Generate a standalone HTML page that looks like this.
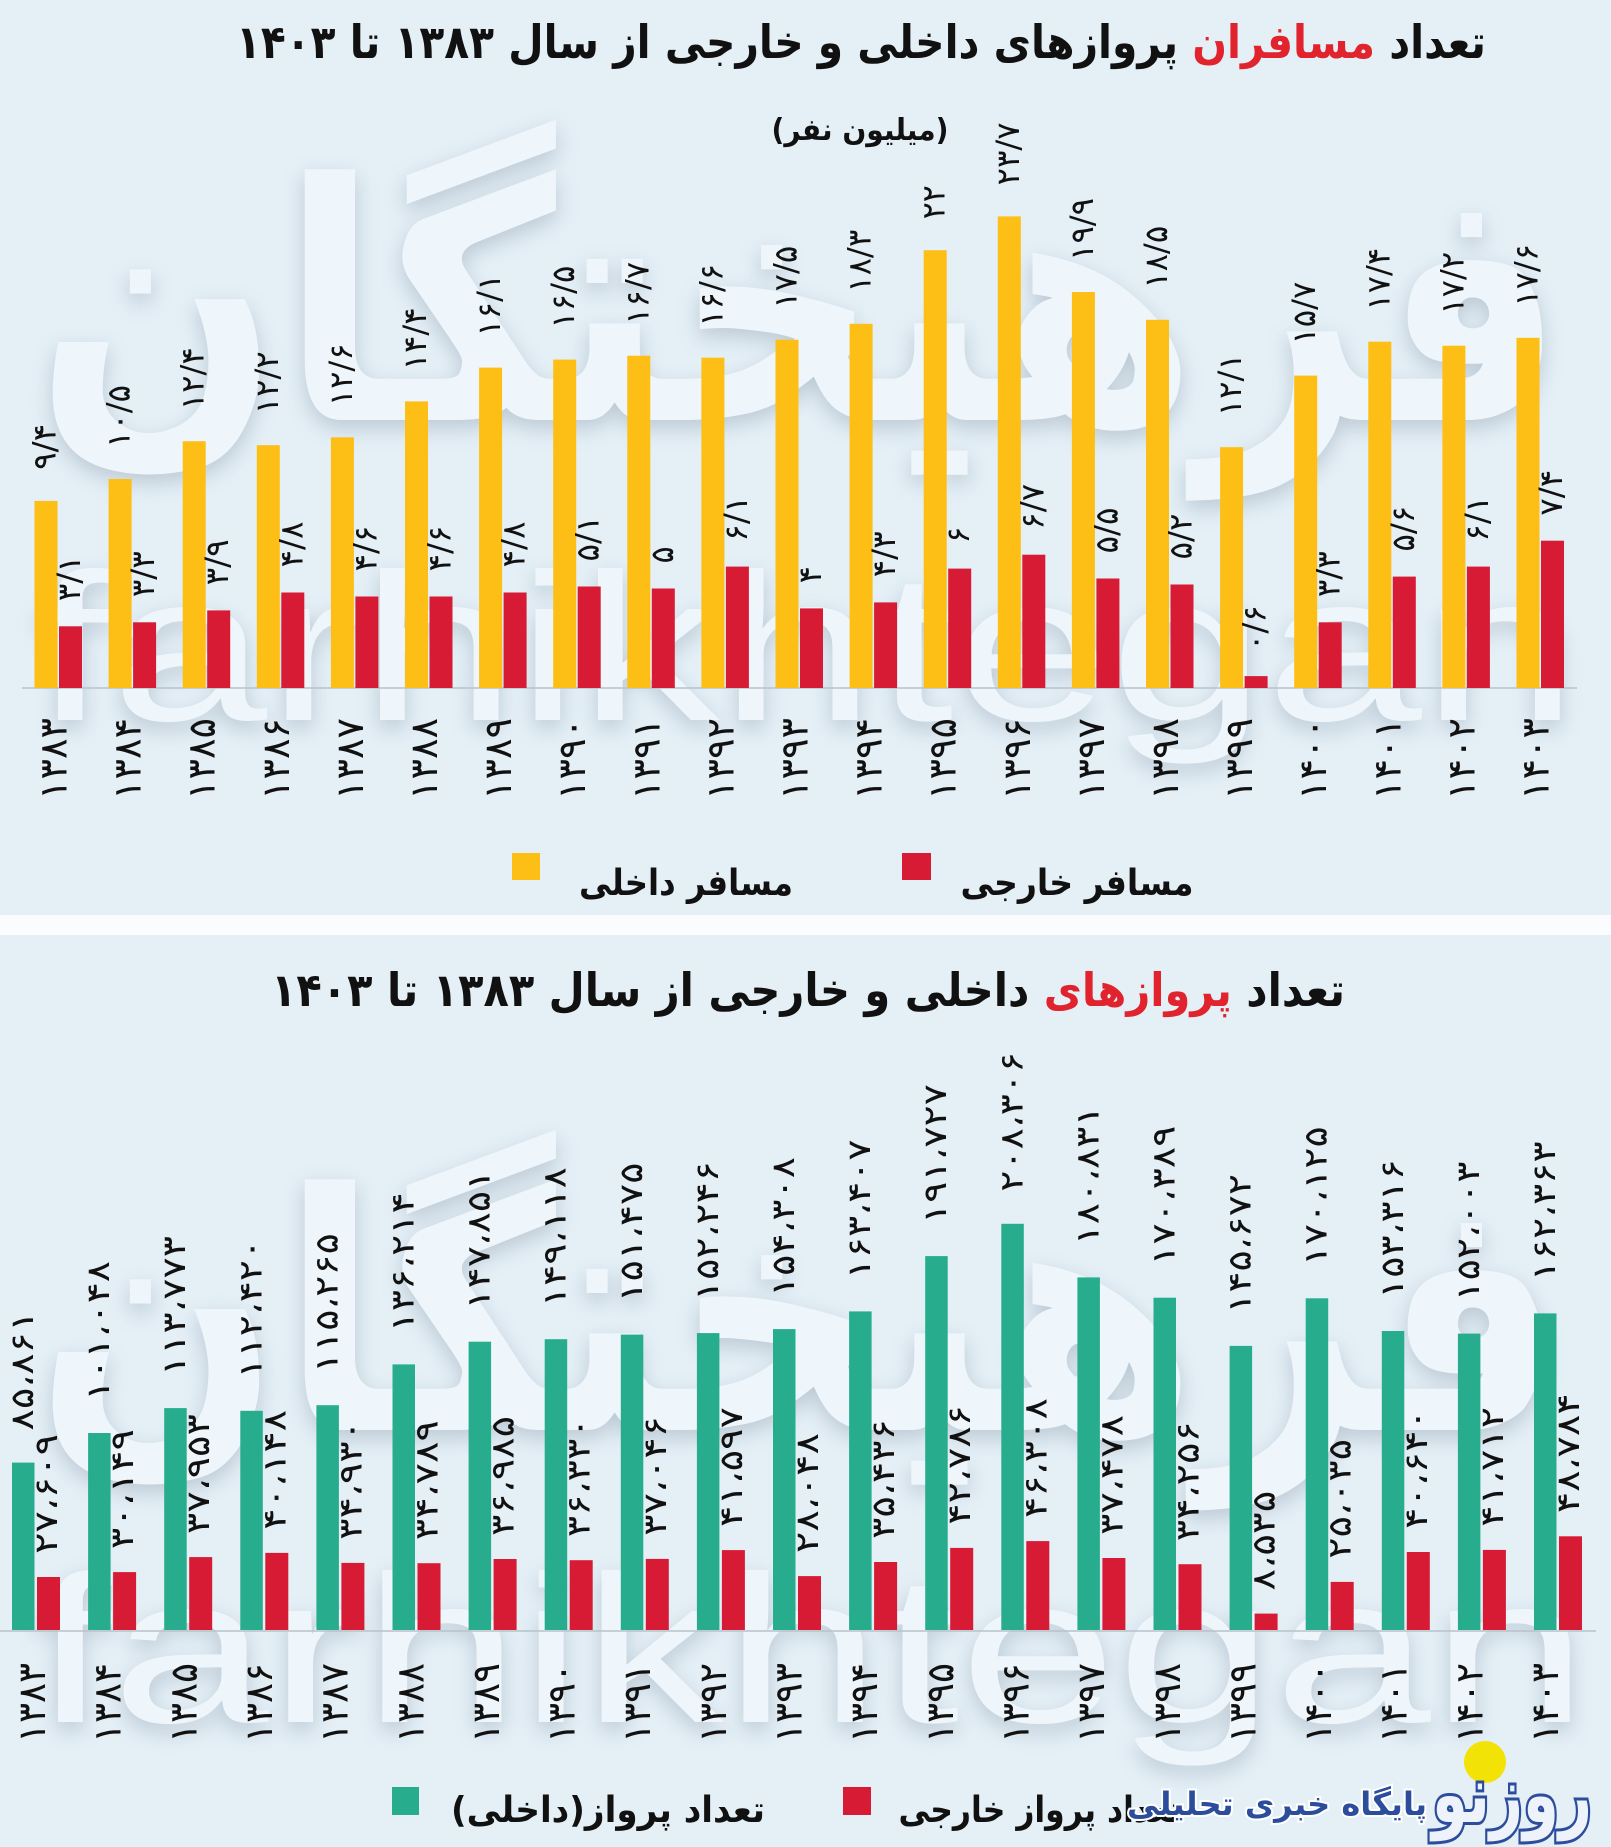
<!DOCTYPE html>
<html lang="fa">
<head>
<meta charset="utf-8">
<style>
  html,body{margin:0;padding:0;background:#fafcfd;}
  body{width:1611px;height:1847px;overflow:hidden;}
  svg{display:block;}
  .t{font-family:"DejaVu Sans",sans-serif;font-weight:bold;fill:#111;}
  .v{font-family:"DejaVu Sans",sans-serif;font-weight:normal;font-size:32px;fill:#111;}
  .y{font-family:"DejaVu Sans",sans-serif;font-weight:normal;font-size:38px;fill:#111;}
  .wm{font-family:"Liberation Sans",sans-serif;font-size:210px;fill:#eff6fb;}
  .wp{font-family:"DejaVu Sans",sans-serif;font-weight:bold;font-size:330px;fill:#eff6fb;}
  .sh{filter:drop-shadow(0px 8px 10px rgba(95,115,135,0.30));}
  .ya{fill:#fdbe16;} .re{fill:#d71b34;} .gr{fill:#27ad8e;}
</style>
</head>
<body>
<svg width="1611" height="1847" viewBox="0 0 1611 1847" xmlns="http://www.w3.org/2000/svg">
  <rect x="0" y="0" width="1611" height="1847" fill="#fafcfd"/>
  <rect x="0" y="0" width="1611" height="915" fill="#e4eff6"/>
  <rect x="0" y="935" width="1611" height="912" fill="#e4eff6"/>

  <g class="sh">
    <text class="wp" x="800" y="420" text-anchor="middle" textLength="1530" lengthAdjust="spacingAndGlyphs" style="direction:rtl">فرهیختگان</text>
    <text class="wm" x="33" y="720" textLength="1545" lengthAdjust="spacingAndGlyphs">farhikhtegan</text>
    <text class="wp" x="800" y="1430" text-anchor="middle" textLength="1530" lengthAdjust="spacingAndGlyphs" style="direction:rtl">فرهیختگان</text>
    <text class="wm" x="33" y="1722" textLength="1555" lengthAdjust="spacingAndGlyphs">farhikhtegan</text>
  </g>

  <!-- ========== CHART 1 ========== -->
  <text class="t" x="861" y="58" font-size="46" text-anchor="middle" textLength="1250" lengthAdjust="spacingAndGlyphs" style="direction:rtl">تعداد <tspan fill="#e1232e">مسافران</tspan> پروازهای داخلی و خارجی از سال ۱۳۸۳ تا ۱۴۰۳</text>
  <text class="t" x="860" y="140" font-size="30" text-anchor="middle" textLength="177" lengthAdjust="spacingAndGlyphs" style="direction:rtl">(میلیون نفر)</text>

  <line x1="22" y1="688" x2="1577" y2="688" stroke="#b8c2ca" stroke-width="1.5"/>

  <g class="ya">
    <rect x="34.5" y="500.9" width="23" height="187.1"/>
    <rect x="108.6" y="479.0" width="23" height="209.0"/>
    <rect x="182.7" y="441.2" width="23" height="246.8"/>
    <rect x="256.8" y="445.2" width="23" height="242.8"/>
    <rect x="330.9" y="437.3" width="23" height="250.7"/>
    <rect x="405.0" y="401.4" width="23" height="286.6"/>
    <rect x="479.1" y="367.6" width="23" height="320.4"/>
    <rect x="553.2" y="359.6" width="23" height="328.4"/>
    <rect x="627.3" y="355.7" width="23" height="332.3"/>
    <rect x="701.4" y="357.7" width="23" height="330.3"/>
    <rect x="775.5" y="339.7" width="23" height="348.3"/>
    <rect x="849.6" y="323.8" width="23" height="364.2"/>
    <rect x="923.7" y="250.2" width="23" height="437.8"/>
    <rect x="997.8" y="216.4" width="23" height="471.6"/>
    <rect x="1071.9" y="292.0" width="23" height="396.0"/>
    <rect x="1146.0" y="319.8" width="23" height="368.2"/>
    <rect x="1220.1" y="447.2" width="23" height="240.8"/>
    <rect x="1294.2" y="375.6" width="23" height="312.4"/>
    <rect x="1368.3" y="341.7" width="23" height="346.3"/>
    <rect x="1442.4" y="345.7" width="23" height="342.3"/>
    <rect x="1516.5" y="337.8" width="23" height="350.2"/>
  </g>
  <g class="re">
    <rect x="59.0" y="626.3" width="23" height="61.7"/>
    <rect x="133.1" y="622.3" width="23" height="65.7"/>
    <rect x="207.2" y="610.4" width="23" height="77.6"/>
    <rect x="281.3" y="592.5" width="23" height="95.5"/>
    <rect x="355.4" y="596.5" width="23" height="91.5"/>
    <rect x="429.5" y="596.5" width="23" height="91.5"/>
    <rect x="503.6" y="592.5" width="23" height="95.5"/>
    <rect x="577.7" y="586.5" width="23" height="101.5"/>
    <rect x="651.8" y="588.5" width="23" height="99.5"/>
    <rect x="725.9" y="566.6" width="23" height="121.4"/>
    <rect x="800.0" y="608.4" width="23" height="79.6"/>
    <rect x="874.1" y="602.4" width="23" height="85.6"/>
    <rect x="948.2" y="568.6" width="23" height="119.4"/>
    <rect x="1022.3" y="554.7" width="23" height="133.3"/>
    <rect x="1096.4" y="578.5" width="23" height="109.5"/>
    <rect x="1170.5" y="584.5" width="23" height="103.5"/>
    <rect x="1244.6" y="676.1" width="23" height="11.9"/>
    <rect x="1318.7" y="622.3" width="23" height="65.7"/>
    <rect x="1392.8" y="576.6" width="23" height="111.4"/>
    <rect x="1466.9" y="566.6" width="23" height="121.4"/>
    <rect x="1541.0" y="540.7" width="23" height="147.3"/>
  </g>

  <g>
    <text class="v" transform="translate(55.5,469.9) rotate(-90)" textLength="46" lengthAdjust="spacingAndGlyphs">۹/۴</text>
    <text class="v" transform="translate(129.6,448.0) rotate(-90)" textLength="63" lengthAdjust="spacingAndGlyphs">۱۰/۵</text>
    <text class="v" transform="translate(203.7,410.2) rotate(-90)" textLength="63" lengthAdjust="spacingAndGlyphs">۱۲/۴</text>
    <text class="v" transform="translate(277.8,414.2) rotate(-90)" textLength="63" lengthAdjust="spacingAndGlyphs">۱۲/۲</text>
    <text class="v" transform="translate(351.9,406.3) rotate(-90)" textLength="63" lengthAdjust="spacingAndGlyphs">۱۲/۶</text>
    <text class="v" transform="translate(426.0,370.4) rotate(-90)" textLength="63" lengthAdjust="spacingAndGlyphs">۱۴/۴</text>
    <text class="v" transform="translate(500.1,336.6) rotate(-90)" textLength="63" lengthAdjust="spacingAndGlyphs">۱۶/۱</text>
    <text class="v" transform="translate(574.2,328.6) rotate(-90)" textLength="63" lengthAdjust="spacingAndGlyphs">۱۶/۵</text>
    <text class="v" transform="translate(648.3,324.7) rotate(-90)" textLength="63" lengthAdjust="spacingAndGlyphs">۱۶/۷</text>
    <text class="v" transform="translate(722.4,326.7) rotate(-90)" textLength="63" lengthAdjust="spacingAndGlyphs">۱۶/۶</text>
    <text class="v" transform="translate(796.5,308.7) rotate(-90)" textLength="63" lengthAdjust="spacingAndGlyphs">۱۷/۵</text>
    <text class="v" transform="translate(870.6,292.8) rotate(-90)" textLength="63" lengthAdjust="spacingAndGlyphs">۱۸/۳</text>
    <text class="v" transform="translate(944.7,219.2) rotate(-90)" textLength="34" lengthAdjust="spacingAndGlyphs">۲۲</text>
    <text class="v" transform="translate(1018.8,185.4) rotate(-90)" textLength="63" lengthAdjust="spacingAndGlyphs">۲۳/۷</text>
    <text class="v" transform="translate(1092.9,261.0) rotate(-90)" textLength="63" lengthAdjust="spacingAndGlyphs">۱۹/۹</text>
    <text class="v" transform="translate(1167.0,288.8) rotate(-90)" textLength="63" lengthAdjust="spacingAndGlyphs">۱۸/۵</text>
    <text class="v" transform="translate(1241.1,416.2) rotate(-90)" textLength="63" lengthAdjust="spacingAndGlyphs">۱۲/۱</text>
    <text class="v" transform="translate(1315.2,344.6) rotate(-90)" textLength="63" lengthAdjust="spacingAndGlyphs">۱۵/۷</text>
    <text class="v" transform="translate(1389.3,310.7) rotate(-90)" textLength="63" lengthAdjust="spacingAndGlyphs">۱۷/۴</text>
    <text class="v" transform="translate(1463.4,314.7) rotate(-90)" textLength="63" lengthAdjust="spacingAndGlyphs">۱۷/۲</text>
    <text class="v" transform="translate(1537.5,306.8) rotate(-90)" textLength="63" lengthAdjust="spacingAndGlyphs">۱۷/۶</text>
  </g>
  <g>
    <text class="v" transform="translate(80.0,601.3) rotate(-90)" textLength="46" lengthAdjust="spacingAndGlyphs">۳/۱</text>
    <text class="v" transform="translate(154.1,597.3) rotate(-90)" textLength="46" lengthAdjust="spacingAndGlyphs">۳/۳</text>
    <text class="v" transform="translate(228.2,585.4) rotate(-90)" textLength="46" lengthAdjust="spacingAndGlyphs">۳/۹</text>
    <text class="v" transform="translate(302.3,567.5) rotate(-90)" textLength="46" lengthAdjust="spacingAndGlyphs">۴/۸</text>
    <text class="v" transform="translate(376.4,571.5) rotate(-90)" textLength="46" lengthAdjust="spacingAndGlyphs">۴/۶</text>
    <text class="v" transform="translate(450.5,571.5) rotate(-90)" textLength="46" lengthAdjust="spacingAndGlyphs">۴/۶</text>
    <text class="v" transform="translate(524.6,567.5) rotate(-90)" textLength="46" lengthAdjust="spacingAndGlyphs">۴/۸</text>
    <text class="v" transform="translate(598.7,561.5) rotate(-90)" textLength="46" lengthAdjust="spacingAndGlyphs">۵/۱</text>
    <text class="v" transform="translate(672.8,563.5) rotate(-90)">۵</text>
    <text class="v" transform="translate(746.9,541.6) rotate(-90)" textLength="46" lengthAdjust="spacingAndGlyphs">۶/۱</text>
    <text class="v" transform="translate(821.0,583.4) rotate(-90)">۴</text>
    <text class="v" transform="translate(895.1,577.4) rotate(-90)" textLength="46" lengthAdjust="spacingAndGlyphs">۴/۳</text>
    <text class="v" transform="translate(969.2,543.6) rotate(-90)">۶</text>
    <text class="v" transform="translate(1043.3,529.7) rotate(-90)" textLength="46" lengthAdjust="spacingAndGlyphs">۶/۷</text>
    <text class="v" transform="translate(1117.4,553.5) rotate(-90)" textLength="46" lengthAdjust="spacingAndGlyphs">۵/۵</text>
    <text class="v" transform="translate(1191.5,559.5) rotate(-90)" textLength="46" lengthAdjust="spacingAndGlyphs">۵/۲</text>
    <text class="v" transform="translate(1265.6,651.1) rotate(-90)" textLength="46" lengthAdjust="spacingAndGlyphs">۰/۶</text>
    <text class="v" transform="translate(1339.7,597.3) rotate(-90)" textLength="46" lengthAdjust="spacingAndGlyphs">۳/۳</text>
    <text class="v" transform="translate(1413.8,551.6) rotate(-90)" textLength="46" lengthAdjust="spacingAndGlyphs">۵/۶</text>
    <text class="v" transform="translate(1487.9,541.6) rotate(-90)" textLength="46" lengthAdjust="spacingAndGlyphs">۶/۱</text>
    <text class="v" transform="translate(1562.0,515.7) rotate(-90)" textLength="46" lengthAdjust="spacingAndGlyphs">۷/۴</text>
  </g>
  <g>
    <text class="y" transform="translate(66.5,800) rotate(-90)" textLength="82" lengthAdjust="spacingAndGlyphs">۱۳۸۳</text>
    <text class="y" transform="translate(140.6,800) rotate(-90)" textLength="82" lengthAdjust="spacingAndGlyphs">۱۳۸۴</text>
    <text class="y" transform="translate(214.7,800) rotate(-90)" textLength="82" lengthAdjust="spacingAndGlyphs">۱۳۸۵</text>
    <text class="y" transform="translate(288.8,800) rotate(-90)" textLength="82" lengthAdjust="spacingAndGlyphs">۱۳۸۶</text>
    <text class="y" transform="translate(362.9,800) rotate(-90)" textLength="82" lengthAdjust="spacingAndGlyphs">۱۳۸۷</text>
    <text class="y" transform="translate(437.0,800) rotate(-90)" textLength="82" lengthAdjust="spacingAndGlyphs">۱۳۸۸</text>
    <text class="y" transform="translate(511.1,800) rotate(-90)" textLength="82" lengthAdjust="spacingAndGlyphs">۱۳۸۹</text>
    <text class="y" transform="translate(585.2,800) rotate(-90)" textLength="82" lengthAdjust="spacingAndGlyphs">۱۳۹۰</text>
    <text class="y" transform="translate(659.3,800) rotate(-90)" textLength="82" lengthAdjust="spacingAndGlyphs">۱۳۹۱</text>
    <text class="y" transform="translate(733.4,800) rotate(-90)" textLength="82" lengthAdjust="spacingAndGlyphs">۱۳۹۲</text>
    <text class="y" transform="translate(807.5,800) rotate(-90)" textLength="82" lengthAdjust="spacingAndGlyphs">۱۳۹۳</text>
    <text class="y" transform="translate(881.6,800) rotate(-90)" textLength="82" lengthAdjust="spacingAndGlyphs">۱۳۹۴</text>
    <text class="y" transform="translate(955.7,800) rotate(-90)" textLength="82" lengthAdjust="spacingAndGlyphs">۱۳۹۵</text>
    <text class="y" transform="translate(1029.8,800) rotate(-90)" textLength="82" lengthAdjust="spacingAndGlyphs">۱۳۹۶</text>
    <text class="y" transform="translate(1103.9,800) rotate(-90)" textLength="82" lengthAdjust="spacingAndGlyphs">۱۳۹۷</text>
    <text class="y" transform="translate(1178.0,800) rotate(-90)" textLength="82" lengthAdjust="spacingAndGlyphs">۱۳۹۸</text>
    <text class="y" transform="translate(1252.1,800) rotate(-90)" textLength="82" lengthAdjust="spacingAndGlyphs">۱۳۹۹</text>
    <text class="y" transform="translate(1326.2,800) rotate(-90)" textLength="82" lengthAdjust="spacingAndGlyphs">۱۴۰۰</text>
    <text class="y" transform="translate(1400.3,800) rotate(-90)" textLength="82" lengthAdjust="spacingAndGlyphs">۱۴۰۱</text>
    <text class="y" transform="translate(1474.4,800) rotate(-90)" textLength="82" lengthAdjust="spacingAndGlyphs">۱۴۰۲</text>
    <text class="y" transform="translate(1548.5,800) rotate(-90)" textLength="82" lengthAdjust="spacingAndGlyphs">۱۴۰۳</text>
  </g>

  <rect x="902" y="853" width="29" height="27" fill="#d71b34"/>
  <text class="t" x="1077" y="895" font-size="36" text-anchor="middle" textLength="233" lengthAdjust="spacingAndGlyphs" style="direction:rtl">مسافر خارجی</text>
  <rect x="512" y="853" width="28" height="27" fill="#fdbe16"/>
  <text class="t" x="686" y="895" font-size="36" text-anchor="middle" textLength="214" lengthAdjust="spacingAndGlyphs" style="direction:rtl">مسافر داخلی</text>

  <!-- ========== CHART 2 ========== -->
  <text class="t" x="808" y="1006" font-size="46" text-anchor="middle" textLength="1074" lengthAdjust="spacingAndGlyphs" style="direction:rtl">تعداد <tspan fill="#e1232e">پروازهای</tspan> داخلی و خارجی از سال ۱۳۸۳ تا ۱۴۰۳</text>

  <line x1="0" y1="1631" x2="1596" y2="1631" stroke="#b8c2ca" stroke-width="1.5"/>

  <g class="gr">
    <rect x="12.0" y="1462.6" width="22.5" height="167.4"/>
    <rect x="88.1" y="1433.0" width="22.5" height="197.0"/>
    <rect x="164.2" y="1408.1" width="22.5" height="221.9"/>
    <rect x="240.3" y="1410.8" width="22.5" height="219.2"/>
    <rect x="316.4" y="1405.2" width="22.5" height="224.8"/>
    <rect x="392.5" y="1364.4" width="22.5" height="265.6"/>
    <rect x="468.6" y="1341.7" width="22.5" height="288.3"/>
    <rect x="544.7" y="1339.2" width="22.5" height="290.8"/>
    <rect x="620.8" y="1334.6" width="22.5" height="295.4"/>
    <rect x="696.9" y="1333.1" width="22.5" height="296.9"/>
    <rect x="773.0" y="1329.1" width="22.5" height="300.9"/>
    <rect x="849.1" y="1311.4" width="22.5" height="318.6"/>
    <rect x="925.2" y="1256.1" width="22.5" height="373.9"/>
    <rect x="1001.3" y="1223.8" width="22.5" height="406.2"/>
    <rect x="1077.4" y="1277.4" width="22.5" height="352.6"/>
    <rect x="1153.5" y="1297.7" width="22.5" height="332.3"/>
    <rect x="1229.6" y="1345.9" width="22.5" height="284.1"/>
    <rect x="1305.7" y="1298.3" width="22.5" height="331.7"/>
    <rect x="1381.8" y="1331.0" width="22.5" height="299.0"/>
    <rect x="1457.9" y="1333.6" width="22.5" height="296.4"/>
    <rect x="1534.0" y="1313.4" width="22.5" height="316.6"/>
  </g>
  <g class="re">
    <rect x="37.0" y="1577.0" width="23" height="53.0"/>
    <rect x="113.1" y="1572.1" width="23" height="57.9"/>
    <rect x="189.2" y="1557.1" width="23" height="72.9"/>
    <rect x="265.3" y="1552.9" width="23" height="77.1"/>
    <rect x="341.4" y="1562.9" width="23" height="67.1"/>
    <rect x="417.5" y="1563.2" width="23" height="66.8"/>
    <rect x="493.6" y="1559.0" width="23" height="71.0"/>
    <rect x="569.7" y="1560.2" width="23" height="69.8"/>
    <rect x="645.8" y="1558.9" width="23" height="71.1"/>
    <rect x="721.9" y="1550.1" width="23" height="79.9"/>
    <rect x="798.0" y="1576.1" width="23" height="53.9"/>
    <rect x="874.1" y="1562.0" width="23" height="68.0"/>
    <rect x="950.2" y="1547.9" width="23" height="82.1"/>
    <rect x="1026.3" y="1541.1" width="23" height="88.9"/>
    <rect x="1102.4" y="1558.0" width="23" height="72.0"/>
    <rect x="1178.5" y="1564.2" width="23" height="65.8"/>
    <rect x="1254.6" y="1613.6" width="23" height="16.4"/>
    <rect x="1330.7" y="1581.9" width="23" height="48.1"/>
    <rect x="1406.8" y="1552.0" width="23" height="78.0"/>
    <rect x="1482.9" y="1549.9" width="23" height="80.1"/>
    <rect x="1559.0" y="1536.3" width="23" height="93.7"/>
  </g>

  <g>
    <text class="v" transform="translate(33.0,1430.6) rotate(-90)" textLength="120" lengthAdjust="spacingAndGlyphs">۸۵،۸۶۱</text>
    <text class="v" transform="translate(109.1,1401.0) rotate(-90)" textLength="140" lengthAdjust="spacingAndGlyphs">۱۰۱،۰۴۸</text>
    <text class="v" transform="translate(185.2,1376.1) rotate(-90)" textLength="140" lengthAdjust="spacingAndGlyphs">۱۱۳،۷۷۳</text>
    <text class="v" transform="translate(261.3,1378.8) rotate(-90)" textLength="140" lengthAdjust="spacingAndGlyphs">۱۱۲،۴۲۰</text>
    <text class="v" transform="translate(337.4,1373.2) rotate(-90)" textLength="140" lengthAdjust="spacingAndGlyphs">۱۱۵،۲۶۵</text>
    <text class="v" transform="translate(413.5,1332.4) rotate(-90)" textLength="140" lengthAdjust="spacingAndGlyphs">۱۳۶،۲۱۴</text>
    <text class="v" transform="translate(489.6,1309.7) rotate(-90)" textLength="140" lengthAdjust="spacingAndGlyphs">۱۴۷،۸۵۱</text>
    <text class="v" transform="translate(565.7,1307.2) rotate(-90)" textLength="140" lengthAdjust="spacingAndGlyphs">۱۴۹،۱۱۸</text>
    <text class="v" transform="translate(641.8,1302.6) rotate(-90)" textLength="140" lengthAdjust="spacingAndGlyphs">۱۵۱،۴۷۵</text>
    <text class="v" transform="translate(717.9,1301.1) rotate(-90)" textLength="140" lengthAdjust="spacingAndGlyphs">۱۵۲،۲۴۶</text>
    <text class="v" transform="translate(794.0,1297.1) rotate(-90)" textLength="140" lengthAdjust="spacingAndGlyphs">۱۵۴،۳۰۸</text>
    <text class="v" transform="translate(870.1,1279.4) rotate(-90)" textLength="140" lengthAdjust="spacingAndGlyphs">۱۶۳،۴۰۷</text>
    <text class="v" transform="translate(946.2,1224.1) rotate(-90)" textLength="140" lengthAdjust="spacingAndGlyphs">۱۹۱،۷۲۷</text>
    <text class="v" transform="translate(1022.3,1191.8) rotate(-90)" textLength="140" lengthAdjust="spacingAndGlyphs">۲۰۸،۳۰۶</text>
    <text class="v" transform="translate(1098.4,1245.4) rotate(-90)" textLength="140" lengthAdjust="spacingAndGlyphs">۱۸۰،۸۳۱</text>
    <text class="v" transform="translate(1174.5,1265.7) rotate(-90)" textLength="140" lengthAdjust="spacingAndGlyphs">۱۷۰،۳۸۹</text>
    <text class="v" transform="translate(1250.6,1313.9) rotate(-90)" textLength="140" lengthAdjust="spacingAndGlyphs">۱۴۵،۶۷۲</text>
    <text class="v" transform="translate(1326.7,1266.3) rotate(-90)" textLength="140" lengthAdjust="spacingAndGlyphs">۱۷۰،۱۲۵</text>
    <text class="v" transform="translate(1402.8,1299.0) rotate(-90)" textLength="140" lengthAdjust="spacingAndGlyphs">۱۵۳،۳۱۶</text>
    <text class="v" transform="translate(1478.9,1301.6) rotate(-90)" textLength="140" lengthAdjust="spacingAndGlyphs">۱۵۲،۰۰۳</text>
    <text class="v" transform="translate(1555.0,1281.4) rotate(-90)" textLength="140" lengthAdjust="spacingAndGlyphs">۱۶۲،۳۶۳</text>
  </g>
  <g>
    <text class="v" transform="translate(57.0,1554.0) rotate(-90)" textLength="120" lengthAdjust="spacingAndGlyphs">۲۷،۶۰۹</text>
    <text class="v" transform="translate(133.1,1549.1) rotate(-90)" textLength="120" lengthAdjust="spacingAndGlyphs">۳۰،۱۴۹</text>
    <text class="v" transform="translate(209.2,1534.1) rotate(-90)" textLength="120" lengthAdjust="spacingAndGlyphs">۳۷،۹۵۳</text>
    <text class="v" transform="translate(285.3,1529.9) rotate(-90)" textLength="120" lengthAdjust="spacingAndGlyphs">۴۰،۱۴۸</text>
    <text class="v" transform="translate(361.4,1539.9) rotate(-90)" textLength="120" lengthAdjust="spacingAndGlyphs">۳۴،۹۳۰</text>
    <text class="v" transform="translate(437.5,1540.2) rotate(-90)" textLength="120" lengthAdjust="spacingAndGlyphs">۳۴،۷۸۹</text>
    <text class="v" transform="translate(513.6,1536.0) rotate(-90)" textLength="120" lengthAdjust="spacingAndGlyphs">۳۶،۹۸۵</text>
    <text class="v" transform="translate(589.7,1537.2) rotate(-90)" textLength="120" lengthAdjust="spacingAndGlyphs">۳۶،۳۳۰</text>
    <text class="v" transform="translate(665.8,1535.9) rotate(-90)" textLength="120" lengthAdjust="spacingAndGlyphs">۳۷،۰۴۶</text>
    <text class="v" transform="translate(741.9,1527.1) rotate(-90)" textLength="120" lengthAdjust="spacingAndGlyphs">۴۱،۵۹۷</text>
    <text class="v" transform="translate(818.0,1553.1) rotate(-90)" textLength="120" lengthAdjust="spacingAndGlyphs">۲۸،۰۴۸</text>
    <text class="v" transform="translate(894.1,1539.0) rotate(-90)" textLength="120" lengthAdjust="spacingAndGlyphs">۳۵،۴۳۶</text>
    <text class="v" transform="translate(970.2,1524.9) rotate(-90)" textLength="120" lengthAdjust="spacingAndGlyphs">۴۲،۷۸۶</text>
    <text class="v" transform="translate(1046.3,1518.1) rotate(-90)" textLength="120" lengthAdjust="spacingAndGlyphs">۴۶،۳۰۸</text>
    <text class="v" transform="translate(1122.4,1535.0) rotate(-90)" textLength="120" lengthAdjust="spacingAndGlyphs">۳۷،۴۷۸</text>
    <text class="v" transform="translate(1198.5,1541.2) rotate(-90)" textLength="120" lengthAdjust="spacingAndGlyphs">۳۴،۲۵۶</text>
    <text class="v" transform="translate(1274.6,1590.6) rotate(-90)" textLength="100" lengthAdjust="spacingAndGlyphs">۸،۵۳۵</text>
    <text class="v" transform="translate(1350.7,1558.9) rotate(-90)" textLength="120" lengthAdjust="spacingAndGlyphs">۲۵،۰۳۵</text>
    <text class="v" transform="translate(1426.8,1529.0) rotate(-90)" textLength="120" lengthAdjust="spacingAndGlyphs">۴۰،۶۴۰</text>
    <text class="v" transform="translate(1502.9,1526.9) rotate(-90)" textLength="120" lengthAdjust="spacingAndGlyphs">۴۱،۷۱۲</text>
    <text class="v" transform="translate(1579.0,1513.3) rotate(-90)" textLength="120" lengthAdjust="spacingAndGlyphs">۴۸،۷۸۴</text>
  </g>
  <g>
    <text class="y" transform="translate(45.0,1743) rotate(-90)" textLength="80" lengthAdjust="spacingAndGlyphs">۱۳۸۳</text>
    <text class="y" transform="translate(120.7,1743) rotate(-90)" textLength="80" lengthAdjust="spacingAndGlyphs">۱۳۸۴</text>
    <text class="y" transform="translate(196.3,1743) rotate(-90)" textLength="80" lengthAdjust="spacingAndGlyphs">۱۳۸۵</text>
    <text class="y" transform="translate(272.0,1743) rotate(-90)" textLength="80" lengthAdjust="spacingAndGlyphs">۱۳۸۶</text>
    <text class="y" transform="translate(347.6,1743) rotate(-90)" textLength="80" lengthAdjust="spacingAndGlyphs">۱۳۸۷</text>
    <text class="y" transform="translate(423.3,1743) rotate(-90)" textLength="80" lengthAdjust="spacingAndGlyphs">۱۳۸۸</text>
    <text class="y" transform="translate(498.9,1743) rotate(-90)" textLength="80" lengthAdjust="spacingAndGlyphs">۱۳۸۹</text>
    <text class="y" transform="translate(574.6,1743) rotate(-90)" textLength="80" lengthAdjust="spacingAndGlyphs">۱۳۹۰</text>
    <text class="y" transform="translate(650.2,1743) rotate(-90)" textLength="80" lengthAdjust="spacingAndGlyphs">۱۳۹۱</text>
    <text class="y" transform="translate(725.9,1743) rotate(-90)" textLength="80" lengthAdjust="spacingAndGlyphs">۱۳۹۲</text>
    <text class="y" transform="translate(801.5,1743) rotate(-90)" textLength="80" lengthAdjust="spacingAndGlyphs">۱۳۹۳</text>
    <text class="y" transform="translate(877.2,1743) rotate(-90)" textLength="80" lengthAdjust="spacingAndGlyphs">۱۳۹۴</text>
    <text class="y" transform="translate(952.8,1743) rotate(-90)" textLength="80" lengthAdjust="spacingAndGlyphs">۱۳۹۵</text>
    <text class="y" transform="translate(1028.5,1743) rotate(-90)" textLength="80" lengthAdjust="spacingAndGlyphs">۱۳۹۶</text>
    <text class="y" transform="translate(1104.1,1743) rotate(-90)" textLength="80" lengthAdjust="spacingAndGlyphs">۱۳۹۷</text>
    <text class="y" transform="translate(1179.8,1743) rotate(-90)" textLength="80" lengthAdjust="spacingAndGlyphs">۱۳۹۸</text>
    <text class="y" transform="translate(1255.4,1743) rotate(-90)" textLength="80" lengthAdjust="spacingAndGlyphs">۱۳۹۹</text>
    <text class="y" transform="translate(1331.1,1743) rotate(-90)" textLength="80" lengthAdjust="spacingAndGlyphs">۱۴۰۰</text>
    <text class="y" transform="translate(1406.7,1743) rotate(-90)" textLength="80" lengthAdjust="spacingAndGlyphs">۱۴۰۱</text>
    <text class="y" transform="translate(1482.4,1743) rotate(-90)" textLength="80" lengthAdjust="spacingAndGlyphs">۱۴۰۲</text>
    <text class="y" transform="translate(1558.0,1743) rotate(-90)" textLength="80" lengthAdjust="spacingAndGlyphs">۱۴۰۳</text>
  </g>

  <rect x="392" y="1787" width="27" height="28" fill="#27ad8e"/>
  <text class="t" x="608" y="1822" font-size="36" text-anchor="middle" textLength="314" lengthAdjust="spacingAndGlyphs" style="direction:rtl">تعداد پرواز(داخلی)</text>
  <rect x="843" y="1787" width="28" height="28" fill="#d71b34"/>
  <text class="t" x="1040" y="1822" font-size="36" text-anchor="middle" textLength="283" lengthAdjust="spacingAndGlyphs" style="direction:rtl">تعداد پرواز خارجی</text>

  <circle cx="1485" cy="1762" r="21" fill="#f2e205"/>
  <text x="1277" y="1815" font-family="DejaVu Sans, sans-serif" font-weight="bold" font-size="32" fill="#2c4c9c" stroke="#ffffff" stroke-width="4" paint-order="stroke" text-anchor="middle" textLength="300" lengthAdjust="spacingAndGlyphs" style="direction:rtl">پایگاه خبری تحلیلی</text>
  <text x="1512" y="1822" font-family="DejaVu Sans, sans-serif" font-weight="bold" font-size="80" fill="#eef3fb" stroke="#2c4c9c" stroke-width="6" paint-order="stroke" text-anchor="middle" textLength="160" lengthAdjust="spacingAndGlyphs" style="direction:rtl">روزنو</text>
</svg>
</body>
</html>
